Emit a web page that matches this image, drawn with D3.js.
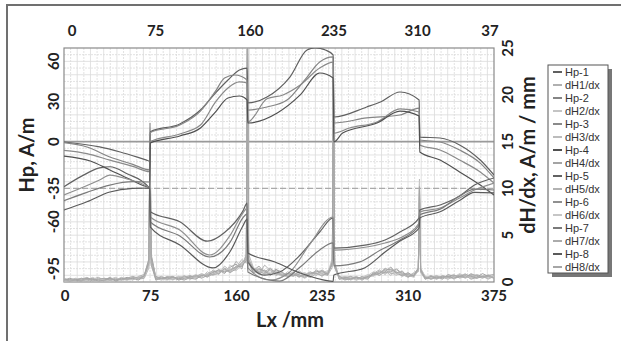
<!DOCTYPE html>
<html>
<head>
<meta charset="utf-8">
<script src="https://cdn.jsdelivr.net/npm/d3@7"></script>
<style>
body { margin: 0; background: #fff; }
svg { display: block; }
.lbl { font-family: Lato, 'Open Sans', sans-serif; font-weight: 700; font-size: 15px; fill: #222; }
.title { font-family: Lato, 'Open Sans', sans-serif; font-weight: 700; font-size: 20px; fill: #222; }
.leg { font-family: 'Liberation Sans', Arial, sans-serif; font-size: 11px; fill: #333; }
</style>
</head>
<body>
<div id="chart"></div>
<script>
// tick labels
var xTicks = [0, 75, 160, 235, 310, 375];
var xBottomLabels = ['0', '75', '160', '235', '310', '375'];
var xTopLabels = ['0', '75', '160', '235', '310', '37'];
var hpTicks = [60, 30, 0, -35, -60, -95];
var dhTicks = [0, 5, 10, 15, 20, 25];

var legendNames = ['Hp-1', 'dH1/dx', 'Hp-2', 'dH2/dx', 'Hp-3', 'dH3/dx', 'Hp-4', 'dH4/dx',
                   'Hp-5', 'dH5/dx', 'Hp-6', 'dH6/dx', 'Hp-7', 'dH7/dx', 'Hp-8', 'dH8/dx'];

// Hp series, [Lx mm, Hp A/m]
var hp1 = [[0,-0.3],[31,-4],[49,-7.8],[72,-13.8],[74.7,-14.5],
  [75.3,7.4],[101,13.2],[119,23.6],[132,36.3],[143,46.1],[153,53.6],[159.7,55],
  [160.3,28.9],[177,33.4],[197,48.3],[212,68.5],[219,70],[228,68.5],[234.7,64.8],
  [235.3,18.4],[264,25.9],[276,29.6],[293,37.1],[309.7,31.1],
  [310.3,3.4],[328,2.7],[345,-2.5],[363,-13.8],[375,-25]];
var hp2 = [[0,-0.8],[20,-4],[40,-11.5],[60,-17],[74.7,-21.2],
  [75.3,6.8],[101,12.4],[119,22.8],[132,37.5],[140,47.6],[149,49.8],[159.7,46.1],
  [160.3,23.6],[177,25.9],[194.5,31.1],[210,46.1],[223,59.5],[234.7,63.3],
  [235.3,13.9],[264,17.7],[293,19.9],[309.7,25.1],
  [310.3,1.2],[328,-0.3],[345,-6.3],[363,-16.1],[375,-27.2]];
var hp3 = [[0,-6.6],[20,-9],[40,-13.8],[60,-18.5],[74.7,-22.5],
  [75.3,0],[101,5.7],[119,12.4],[132,29.5],[143,40.1],[153,44.6],[159.7,43.8],
  [160.3,14.7],[177,32],[191,34.9],[206,42.3],[223,55],[234.7,59.5],
  [235.3,6.4],[249,10.2],[273,14.7],[293,24.4],[309.7,22.1],
  [310.3,-2.5],[328,-6.3],[345,-13.8],[363,-22.7],[375,-31]];
var hp4 = [[0,-10.8],[23,-14.5],[40,-21.2],[57,-28],[74.7,-34],
  [75.3,-1],[101,4.2],[119,10.2],[132,22.1],[143,32.6],[153,34.1],[159.7,31.1],
  [160.3,13.9],[186,21.4],[206,34.9],[223,51.3],[234.7,47.6],
  [235.3,-0.3],[243,6.4],[273,13.9],[293,22.8],[309.7,19.2],
  [310.3,-7.8],[328,-13.8],[345,-22.7],[363,-32.5],[375,-40]];
var hp5 = [[0,-33.7],[15,-26],[31,-19.7],[40,-18.8],[55,-24],[74.7,-35],
  [75.3,-52.4],[101,-60],[125,-74.5],[140,-68],[156,-52],[159.7,-46],
  [160.3,-90],[175,-99.8],[188,-97.5],[206,-84.8],[223,-67.6],[234.7,-57.1],
  [235.3,-79.6],[264,-77.3],[280,-73.6],[293,-67.6],[309.7,-57.1],
  [310.3,-51.2],[328,-47.4],[345,-40.7],[358,-32.5],[375,-27.2]];
var hp6 = [[0,-39.9],[31,-28.7],[40,-25],[55,-28],[74.7,-34.7],
  [75.3,-56.4],[101,-66.1],[127,-84.8],[145,-70],[156,-53.4],[159.7,-50],
  [160.3,-94.5],[180,-103.5],[197,-97.5],[214,-77.3],[234.7,-56.4],
  [235.3,-81.1],[264,-78.8],[280,-75.8],[293,-72.1],[309.7,-60.9],
  [310.3,-52.6],[328,-49.7],[345,-42.2],[358,-36.2],[375,-31]];
var hp7 = [[0,-44.2],[20,-38],[40,-32.5],[60,-30],[74.7,-30.2],
  [75.3,-60.1],[101,-70.6],[127,-86.3],[145,-75],[156,-57],[159.7,-54],
  [160.3,-97.5],[188,-104.3],[206,-93.8],[223,-81],[234.7,-75.8],
  [235.3,-93],[258,-90],[276,-81.1],[293,-73.6],[309.7,-62.4],
  [310.3,-54.9],[328,-50.5],[345,-40.7],[358,-35.5],[375,-36.2]];
var hp8 = [[0,-51.2],[20,-45],[40,-37.7],[60,-35],[74.7,-34.7],
  [75.3,-63.9],[101,-77.3],[130,-94.5],[145,-82],[156,-63.1],[159.7,-58],
  [160.3,-83.3],[184,-90],[206,-98.3],[232,-104.3],[234.7,-104.5],
  [235.3,-99.8],[262,-94.5],[280,-82.6],[293,-74.4],[309.7,-64.6],
  [310.3,-57.1],[328,-52.5],[345,-44],[358,-38],[375,-38.4]];

// dH/dx series share one Lx grid
var dhX = [0,5,10,15,20,25,30,35,40,45,50,55,60,65,70, 74,75,76,
  80,85,90,95,100,105,110,115,120,125,130,135,140,145,150,155, 159,160,161,
  165,170,175,180,185,190,195,200,205,210,215,220,225,230, 234,235,236,
  240,245,250,255,260,265,270,275,280,285,290,295,300,305, 309,310,311,
  315,320,325,330,335,340,345,350,355,360,365,370,375];
var dh1 = [.2,.1,.3,.2,.4,.1,.3,.2,.5,.2,.3,.4,.2,.6,.8, 2,16,3,
  .5,.3,.6,.4,.3,.5,.7,.4,.6,.9,1.2,.8,1.5,1.1,2.2,1.6, 3,28,2,
  1.4,.9,1.8,1.2,.7,1.0,.6,.9,.5,.8,1.1,.7,1.3,.9, 2,24,2,
  .6,.4,.3,.5,.2,.6,.9,1.3,.8,1.4,1.1,.6,.9,.7, 1.5,10.5,1.2,
  .4,.6,.3,.7,.5,.4,.8,.5,.9,.6,.4,.7,.5];
var dh2 = [.1,.3,.2,.4,.2,.3,.1,.4,.3,.5,.2,.3,.5,.4,.7, 2.5,15,2.5,
  .3,.5,.4,.2,.6,.4,.5,.8,.5,1.1,.7,1.4,1.0,1.8,1.3,2.0, 2.5,27,2.5,
  1.1,1.5,.8,1.3,.9,.6,1.1,.7,1.0,.6,.9,1.2,.8,1.0, 2.5,22,1.5,
  .5,.3,.6,.2,.4,.7,1.1,.8,1.5,1.0,.7,1.2,.5,.8, 1.2,9.5,1.5,
  .6,.3,.5,.4,.7,.3,.6,.9,.4,.7,.5,.8,.4];
var dh3 = [.3,.2,.1,.3,.5,.2,.4,.1,.3,.2,.5,.3,.4,.3,.5, 1.8,14,2,
  .4,.2,.5,.3,.4,.7,.3,.6,.9,.6,1.3,.9,1.7,1.2,1.5,2.4, 2,26,3,
  1.6,1.0,1.3,.8,1.2,.8,.5,1.0,.7,.4,.8,1.0,.6,1.1, 1.8,21,2,
  .4,.6,.2,.5,.3,.5,.8,1.0,1.2,.7,1.3,.8,.6,1.0, 1.3,11,1,
  .3,.5,.7,.4,.6,.8,.4,.6,.5,.8,.6,.3,.6];
var dh4 = [.2,.4,.2,.1,.3,.4,.2,.3,.4,.1,.3,.5,.3,.5,.6, 2.2,17,2.8,
  .6,.4,.3,.5,.2,.4,.6,.5,.7,.8,1.0,1.3,.9,1.6,1.9,1.4, 2.8,30,2,
  1.2,1.7,1.0,.9,1.4,.7,.9,.6,1.2,.7,.5,.9,1.1,.8, 2.2,23,1.8,
  .3,.5,.4,.3,.6,.4,1.0,.7,1.1,1.6,.9,.7,1.0,.6, 1.4,10,1.3,
  .5,.4,.6,.3,.8,.6,.5,.7,.3,.5,.9,.6,.4];
var dh5 = [.4,.2,.3,.2,.1,.3,.5,.2,.2,.4,.3,.2,.5,.3,.4, 1.5,13,2,
  .2,.4,.5,.3,.5,.3,.4,.6,.8,.5,.9,1.1,1.3,1.0,1.7,1.9, 2.2,25,2.2,
  .9,1.3,1.1,1.5,.8,1.0,.7,1.1,.6,.9,.6,1.3,.9,.7, 1.6,20,1.6,
  .5,.2,.4,.6,.3,.5,.7,.9,1.3,.9,1.0,.8,.5,.9, 1.1,9,1.1,
  .4,.7,.4,.5,.3,.6,.7,.4,.7,.5,.6,.4,.7];
var dh6 = [.1,.2,.4,.3,.2,.5,.2,.3,.1,.3,.4,.2,.3,.5,.5, 1.6,15.5,2.4,
  .5,.3,.2,.4,.6,.5,.3,.5,.6,.9,.7,1.0,1.2,1.4,1.2,1.8, 2.6,29,2.6,
  1.3,.8,1.2,1.0,1.1,.9,.8,.6,.9,1.0,.7,.8,1.0,1.2, 2,22.5,1.7,
  .4,.6,.5,.2,.5,.8,.6,1.2,.9,1.2,.8,1.0,.7,.5, 1.2,10.8,1.4,
  .6,.5,.3,.6,.4,.5,.9,.6,.5,.4,.7,.5,.6];
var dh7 = [.3,.1,.2,.4,.3,.2,.3,.4,.2,.3,.2,.4,.6,.4,.6, 2,14.5,1.8,
  .4,.6,.3,.5,.4,.2,.5,.7,.4,.7,.8,.9,1.4,1.0,1.4,2.1, 2.4,26.5,2.4,
  1.5,1.1,.9,1.4,1.0,.7,.9,.8,.6,.7,1.0,.9,.7,.9, 1.9,21.5,1.9,
  .3,.4,.6,.4,.4,.3,.9,1.1,1.0,1.1,1.4,.9,.8,.6, 1.3,9.8,1.2,
  .5,.3,.5,.6,.5,.7,.6,.5,.8,.7,.5,.6,.5];
var dh8 = [.2,.3,.3,.2,.4,.3,.1,.2,.4,.2,.4,.3,.4,.2,.7, 2.4,16.5,2.6,
  .3,.4,.5,.6,.3,.6,.4,.3,.7,.6,1.1,1.2,1.1,1.3,1.6,1.7, 2.3,27.5,2.3,
  1.0,1.4,1.2,.7,1.3,1.1,.6,.7,.8,.5,.9,1.1,1.2,.8, 2.1,23.5,1.6,
  .6,.3,.3,.5,.4,.6,.8,.9,1.4,1.3,1.0,1.1,.6,.7, 1.5,10.2,1.4,
  .3,.6,.4,.5,.6,.4,.6,.8,.6,.4,.6,.7,.8];

var hpSeries = [hp1, hp2, hp3, hp4, hp5, hp6, hp7, hp8];
var dhSeries = [dh1, dh2, dh3, dh4, dh5, dh6, dh7, dh8];
var hpColors = ['#606060', '#858585', '#8a8a8a', '#505050', '#626262', '#909090', '#7a7a7a', '#5a5a5a'];
var dhColors = ['#b0b0b0', '#c4c4c4', '#bcbcbc', '#a4a4a4', '#b2b2b2', '#c6c6c6', '#ababab', '#a6a6a6'];

var width = 621, height = 341;
var plot = {left: 64, top: 48, right: 494, bottom: 282};

var svg = d3.select('#chart').append('svg')
    .attr('width', width)
    .attr('height', height);

var x = d3.scaleLinear().domain([0, 375]).range([plot.left, plot.right]);
var xTop = d3.scaleLinear().domain([0, 375]).range([72, 490]);
var xBottom = d3.scalePoint().domain(xBottomLabels).range([65, 494]);
var yL = d3.scaleLinear().domain([-105, 70]).range([plot.bottom, plot.top]);
var yR = d3.scaleLinear().domain([0, 25]).range([plot.bottom, plot.top]);

// outer frame
svg.append('rect')
    .attr('x', 7).attr('y', 5)
    .attr('width', 700).attr('height', 400)
    .attr('fill', 'none')
    .attr('stroke', '#707070')
    .attr('stroke-width', 2);

// grid
var gx = d3.scaleLinear().domain([0, 65]).range([plot.left, plot.right]);
svg.append('g').selectAll('line')
    .data(d3.range(1, 65))
  .enter().append('line')
    .attr('x1', function(d){ return gx(d); })
    .attr('x2', function(d){ return gx(d); })
    .attr('y1', plot.top).attr('y2', plot.bottom)
    .attr('stroke', '#dadada')
    .attr('stroke-width', 0.8)
    .attr('stroke-dasharray', function(d){ return d % 2 ? '2,1' : null; });

svg.append('g').selectAll('line')
    .data(d3.range(-100, 70, 5))
  .enter().append('line')
    .attr('x1', plot.left).attr('x2', plot.right)
    .attr('y1', function(d){ return yL(d); })
    .attr('y2', function(d){ return yL(d); })
    .attr('stroke', '#dadada')
    .attr('stroke-width', 0.8)
    .attr('stroke-dasharray', function(d){ return d % 10 ? '2,1' : null; });

// reference lines
svg.append('line')
    .attr('x1', plot.left).attr('x2', plot.right)
    .attr('y1', yL(0)).attr('y2', yL(0))
    .attr('stroke', '#9a9a9a').attr('stroke-width', 1.6);
svg.append('line')
    .attr('x1', plot.left).attr('x2', plot.right)
    .attr('y1', yL(-35)).attr('y2', yL(-35))
    .attr('stroke', '#aaa').attr('stroke-width', 1.2)
    .attr('stroke-dasharray', '6,3');

svg.append('rect')
    .attr('x', plot.left).attr('y', plot.top)
    .attr('width', plot.right - plot.left)
    .attr('height', plot.bottom - plot.top)
    .attr('fill', 'none')
    .attr('stroke', '#8a8a8a')
    .attr('stroke-width', 1.2);

svg.append('clipPath').attr('id', 'clip')
  .append('rect')
    .attr('x', plot.left).attr('y', plot.top)
    .attr('width', plot.right - plot.left)
    .attr('height', plot.bottom - plot.top);

var lines = svg.append('g').attr('clip-path', 'url(#clip)');

// dH/dx lines
var dhLine = d3.line()
    .x(function(d, i){ return x(dhX[i]); })
    .y(function(d){ return yR(d); });

lines.selectAll('.dh')
    .data(dhSeries)
  .enter().append('path')
    .attr('class', 'dh')
    .attr('d', dhLine)
    .attr('fill', 'none')
    .attr('stroke', function(d, i){ return dhColors[i]; })
    .attr('stroke-width', 1);

// Hp lines
var hpLine = d3.line()
    .x(function(d){ return x(d[0]); })
    .y(function(d){ return yL(d[1]); })
    .curve(d3.curveMonotoneX);

lines.selectAll('.hp')
    .data(hpSeries)
  .enter().append('path')
    .attr('class', 'hp')
    .attr('d', hpLine)
    .attr('fill', 'none')
    .attr('stroke', function(d, i){ return hpColors[i]; })
    .attr('stroke-width', 1.2);

// bottom tick labels
svg.append('g').selectAll('text')
    .data(xBottomLabels)
  .enter().append('text')
    .attr('class', 'lbl')
    .attr('x', function(d){ return xBottom(d); })
    .attr('y', 301)
    .attr('text-anchor', 'middle')
    .text(function(d){ return d; });

// top tick labels
svg.append('g').selectAll('text')
    .data(xTicks)
  .enter().append('text')
    .attr('class', 'lbl')
    .attr('x', function(d){ return xTop(d); })
    .attr('y', 36)
    .attr('text-anchor', 'middle')
    .text(function(d, i){ return xTopLabels[i]; });

// left tick labels (rotated)
svg.append('g').selectAll('text')
    .data(hpTicks)
  .enter().append('text')
    .attr('class', 'lbl')
    .attr('transform', function(d){ return 'translate(59,' + yL(d) + ') rotate(-90)'; })
    .attr('text-anchor', 'middle')
    .text(function(d){ return d; });

// right tick labels (rotated)
svg.append('g').selectAll('text')
    .data(dhTicks)
  .enter().append('text')
    .attr('class', 'lbl')
    .attr('transform', function(d){ return 'translate(513,' + yR(d) + ') rotate(-90)'; })
    .attr('text-anchor', 'middle')
    .text(function(d){ return d; });

// axis titles
svg.append('text').attr('class', 'title')
    .attr('transform', 'translate(34,155) rotate(-90)')
    .attr('text-anchor', 'middle')
    .text('Hp, A/m');
svg.append('text').attr('class', 'title')
    .attr('transform', 'translate(535,155) rotate(-90)')
    .attr('text-anchor', 'middle')
    .text('dH/dx, A/m / mm');
svg.append('text').attr('class', 'title')
    .attr('x', 290).attr('y', 327)
    .attr('text-anchor', 'middle')
    .text('Lx /mm');

// legend
var leg = svg.append('g');
leg.append('rect')
    .attr('x', 552).attr('y', 69)
    .attr('width', 60).attr('height', 208)
    .attr('fill', '#777');
leg.append('rect')
    .attr('x', 548).attr('y', 65)
    .attr('width', 60).attr('height', 208)
    .attr('fill', '#fff')
    .attr('stroke', '#555')
    .attr('stroke-width', 1);

var rowY = d3.scaleLinear().domain([0, 15]).range([72, 267]);
var rows = leg.selectAll('.row')
    .data(legendNames)
  .enter().append('g')
    .attr('class', 'row')
    .attr('transform', function(d, i){ return 'translate(0,' + rowY(i) + ')'; });
rows.append('line')
    .attr('x1', 553).attr('x2', 562)
    .attr('y1', 0).attr('y2', 0)
    .attr('stroke', function(d, i){ return i % 2 ? dhColors[i >> 1] : hpColors[i >> 1]; })
    .attr('stroke-width', 2);
rows.append('text')
    .attr('class', 'leg')
    .attr('x', 565).attr('y', 4)
    .text(function(d){ return d; });
</script>
</body>
</html>
